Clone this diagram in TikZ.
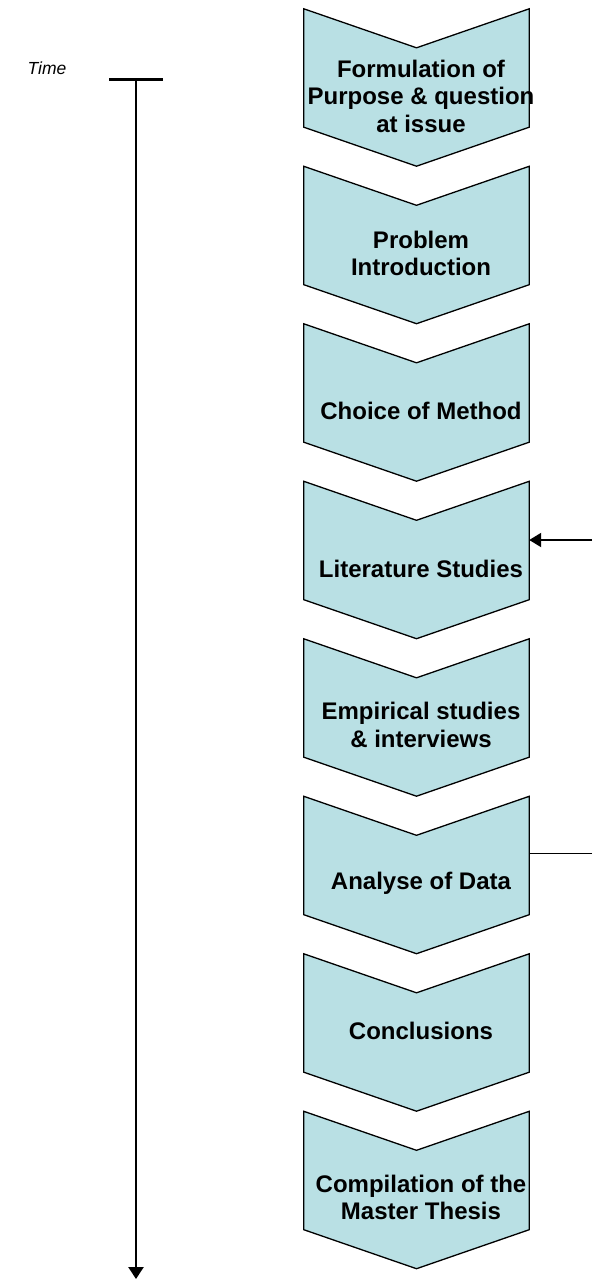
\documentclass[tikz,border=0pt]{standalone}
\usepackage{fontspec}
\setmainfont{Liberation Sans}
\usetikzlibrary{arrows.meta}
\definecolor{stepfill}{RGB}{185,224,228}

\begin{document}
\begin{tikzpicture}
[x=1pt,y=-1pt,%
  stepbody/.style={shape=rectangle,minimum width=225pt,minimum height=157pt,inner sep=0pt},%
  chevron/.style={fill=stepfill,draw=black,line width=1.3pt,line join=miter},%
  steptext/.style={align=center,inner sep=0pt,font=\fontsize{24}{27.5}\selectfont\bfseries}]
\useasboundingbox (0,0) rectangle (592,1280);
% time axis
\node[font=\fontsize{17.5}{20}\selectfont\itshape] (time) at (47,68) {Time};
\coordinate (tstart) at (136,78);
\coordinate (tend) at (136,1279);
\draw[line width=2.5pt,{Bar[width=54pt]}-{Triangle[width=15pt,length=12pt]}] (tstart) -- (tend);
% steps
\foreach \i/\dy/\txt in {%
  0/87/{Formulation of\\Purpose \& question\\at issue},%
  1/87/{Problem\\Introduction},%
  2/87/{Choice of Method},%
  3/87/{Literature Studies},%
  4/86/{Empirical studies\\ \& interviews},%
  5/87/{Analyse of Data},%
  6/77/{Conclusions},%
  7/86/{Compilation of the\\Master Thesis}}
{
  \node[stepbody] (b\i) at (416.5,{9+157.5*\i+78.5}) {};
  \draw[chevron] (b\i.north west) -- ([yshift=-39pt]b\i.north) -- (b\i.north east)
    -- ([yshift=39pt]b\i.south east) -- (b\i.south) -- ([yshift=39pt]b\i.south west) -- cycle;
  \node[steptext] (s\i) at (421,{9+157.5*\i+\dy}) {\txt};
}
% side connectors
\coordinate (litsrc) at (592,540);
\draw[line width=2pt,-{Triangle[width=14pt,length=12pt]}] (litsrc) -- (litsrc -| b3.east);
\coordinate (anasrc) at (592,853);
\draw[line width=0.9pt] (anasrc) -- (anasrc -| b5.east);
\end{tikzpicture}
\end{document}
